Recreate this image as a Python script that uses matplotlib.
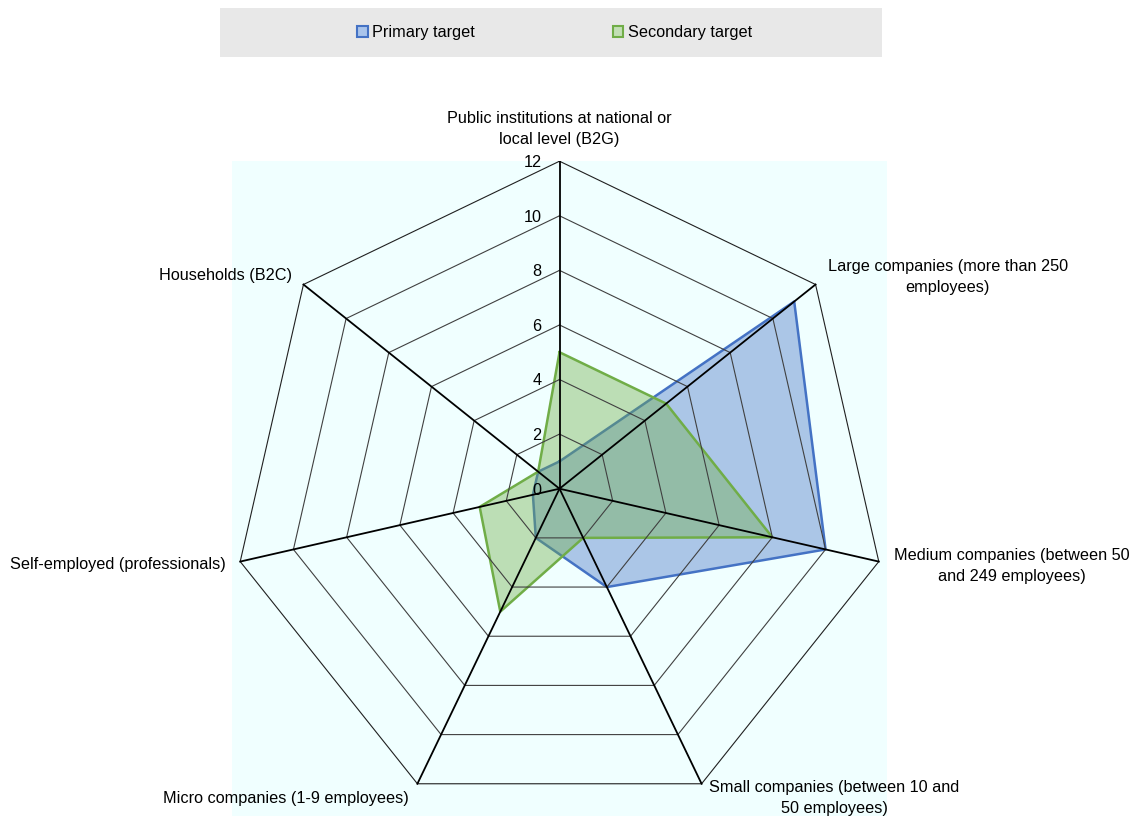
import numpy as np
import matplotlib
matplotlib.use("Agg")
import matplotlib.pyplot as plt
from matplotlib.patches import Patch, Rectangle

plt.rcParams['font.family'] = ['Liberation Sans', 'DejaVu Sans']

categories = [
    "Public institutions at national or\nlocal level (B2G)",
    "Large companies (more than 250\nemployees)",
    "Medium companies (between 50\nand 249 employees)",
    "Small companies (between 10 and\n50 employees)",
    "Micro companies (1-9 employees)",
    "Self-employed (professionals)",
    "Households (B2C)",
]
primary = [1, 11, 10, 4, 2, 1, 1]
secondary = [5, 5, 8, 2, 5, 3, 1]
series_names = ["Primary target", "Secondary target"]
ticks = [0, 2, 4, 6, 8, 10, 12]
rmax = 12

blue_edge = "#4472C4"
green_edge = "#70AD47"
FS = 11.7

W, H = 1135, 817
fig = plt.figure(figsize=(W / 100, H / 100), dpi=100)

# plot area (square)
half = 327.5
cx, cy = 559.5, 488.7
ax = fig.add_axes([(cx - half) / W, (H - cy - half) / H, 2 * half / W, 2 * half / H])
ax.set_facecolor("#F0FFFF")
ax.set_xlim(-rmax, rmax)
ax.set_ylim(-rmax, rmax)
ax.set_aspect("auto")
for s in ax.spines.values():
    s.set_visible(False)
ax.set_xticks([])
ax.set_yticks([])

n = len(categories)
ang = np.arange(n) * 2 * np.pi / n  # clockwise from top
ux, uy = np.sin(ang), np.cos(ang)

def poly(vals):
    v = np.asarray(vals, float)
    x = v * ux
    y = v * uy
    return np.append(x, x[0]), np.append(y, y[0])

# series
for vals, col, z in [(primary, blue_edge, 2), (secondary, green_edge, 3)]:
    x, y = poly(vals)
    ax.fill(x, y, facecolor=col, alpha=0.4, edgecolor="none", zorder=z)
    ax.plot(x, y, color=col, lw=1.8, zorder=z + 0.5)

# grid rings
for t in ticks[1:]:
    x, y = poly([t] * n)
    ax.plot(x, y, color="#404040" if t < rmax else "#202020", lw=0.8, zorder=5)
# spokes
for i in range(n):
    ax.plot([0, rmax * ux[i]], [0, rmax * uy[i]], color="black", lw=1.3, zorder=6)

# tick labels
for t in ticks:
    ax.annotate(str(t), xy=(0, t), xytext=(-13, -1), textcoords="offset points",
                ha="right", va="center", fontsize=FS, annotation_clip=False, zorder=7)

# category labels (offsets in pixels -> points)
offs = [
    ((0, 14), "center", "bottom"),
    ((12, 8), "left", "center"),
    ((15, -4), "left", "center"),
    ((7.5, -14), "left", "center"),
    ((-8.5, -15), "right", "center"),
    ((-14, -3), "right", "center"),
    ((-11, 8.6), "right", "center"),
]
for i, lab in enumerate(categories):
    (dx, dy), ha, va = offs[i]
    ax.annotate(lab, xy=(rmax * ux[i], rmax * uy[i]), xytext=(dx * 0.72, dy * 0.72),
                textcoords="offset points", ha=ha, va=va, multialignment="center",
                fontsize=FS, annotation_clip=False, linespacing=1.5)

# legend background
fig.patches.append(Rectangle((220 / W, 1 - 57 / H), 662 / W, 49 / H,
                             transform=fig.transFigure, facecolor="#E8E8E8",
                             edgecolor="none", zorder=0))
handles = [Patch(facecolor="#A9C4EB", edgecolor=blue_edge, lw=1.5),
           Patch(facecolor="#C2DFB5", edgecolor=green_edge, lw=1.5)]
fig.legend(handles, series_names, loc="center", bbox_to_anchor=(554.5 / W, 1 - 33 / H),
           ncol=2, frameon=False, fontsize=FS, handlelength=0.65, handleheight=0.65,
           handletextpad=0.25, columnspacing=8.5, borderpad=0)

fig.savefig("out.png", dpi=100)
